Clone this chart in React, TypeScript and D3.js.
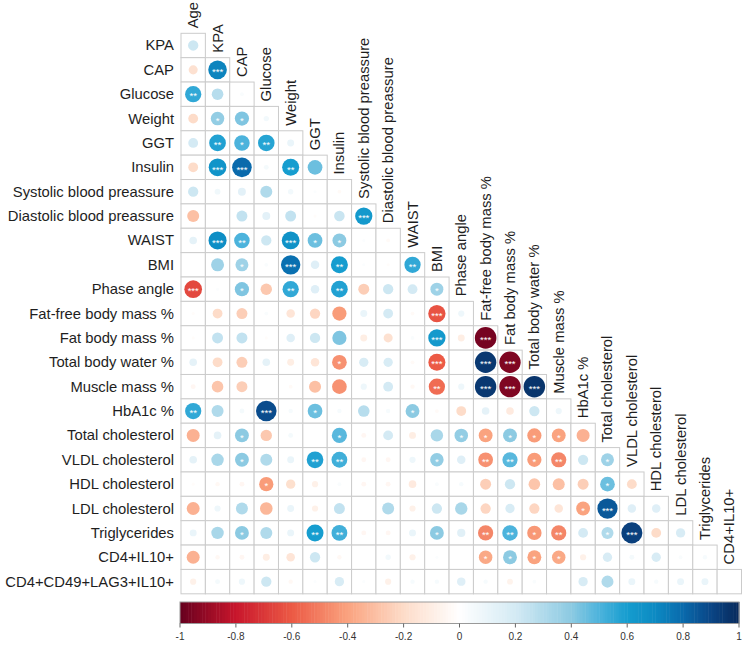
import React from "react";
import * as d3 from "d3";

const variables = [
  "Age", "KPA", "CAP", "Glucose", "Weight", "GGT", "Insulin",
  "Systolic blood preassure", "Diastolic blood preassure", "WAIST", "BMI",
  "Phase angle", "Fat-free body mass %", "Fat body mass %", "Total body water %",
  "Muscle mass %", "HbA1c %", "Total cholesterol", "VLDL cholesterol",
  "HDL cholesterol", "LDL cholesterol", "Triglycerides", "CD4+IL10+",
  "CD4+CD49+LAG3+IL10+",
];

// lower triangle: row i (variables[i], i>=1) holds correlations with variables[0..i-1]
const corrRows: number[][] = [
  [],
  [0.22],
  [-0.17, 0.72],
  [0.55, 0.28, 0.03],
  [-0.2, 0.38, 0.42, 0.06],
  [0.2, 0.58, 0.5, 0.57, 0.1],
  [-0.2, 0.65, 0.8, 0.05, 0.6, 0.45],
  [0.22, 0.07, 0.13, 0.3, 0.06, 0.02, -0.03],
  [-0.3, 0, 0.25, 0.13, 0.25, -0.02, 0.23, 0.62],
  [0.12, 0.68, 0.5, 0.22, 0.66, 0.45, 0.4, 0.02, -0.03],
  [0, 0.35, 0.35, 0.03, 0.78, 0.15, 0.6, 0.02, -0.02, 0.55],
  [-0.65, 0.02, 0.42, -0.27, 0.55, 0.15, 0.58, -0.25, 0.22, 0.2, 0.35],
  [-0.02, -0.2, -0.25, 0.03, -0.15, -0.22, -0.42, 0.1, 0.2, -0.03, -0.62, 0.08],
  [-0.02, 0.25, 0.25, -0.02, 0.15, 0.22, 0.42, -0.1, -0.17, 0.03, 0.62, -0.1, -0.97],
  [0.12, -0.2, -0.25, 0.12, -0.1, -0.15, -0.45, 0.18, 0.18, -0.03, -0.6, 0, 0.95, -0.95],
  [-0.05, -0.28, -0.25, 0, -0.03, -0.3, -0.45, 0.08, 0.2, -0.04, -0.55, 0.08, 0.95, -0.95, 0.96],
  [0.55, 0.3, 0.05, 0.88, 0.04, 0.45, 0.04, 0.28, 0.04, 0.4, -0.03, -0.2, 0.12, -0.12, 0.22, 0.08],
  [-0.35, 0.12, 0.4, -0.27, 0.05, 0, 0.48, -0.05, 0.2, -0.1, 0.32, 0.38, -0.4, 0.4, -0.42, -0.4, -0.35],
  [0.12, 0.32, 0.4, 0.3, 0.1, 0.58, 0.52, -0.05, -0.05, 0.08, 0.38, 0.15, -0.45, 0.48, -0.42, -0.48, 0.22, 0.35],
  [-0.02, -0.04, -0.05, -0.42, -0.18, -0.08, 0.03, -0.05, -0.05, -0.12, 0.03, 0.04, -0.25, 0.22, -0.28, -0.3, -0.25, 0.45, -0.2],
  [-0.35, 0.08, 0.3, -0.33, 0.1, -0.08, 0.25, 0, 0.3, -0.08, 0.22, 0.32, -0.22, 0.18, -0.22, -0.15, -0.4, 0.85, 0.15, 0.15],
  [0.1, 0.32, 0.4, 0.3, 0.1, 0.6, 0.52, -0.05, -0.05, 0.1, 0.4, 0.14, -0.48, 0.5, -0.43, -0.48, 0.2, 0.3, 0.92, -0.2, 0.18],
  [-0.35, -0.04, -0.05, -0.1, -0.15, 0.22, -0.04, 0, 0.06, -0.08, 0.02, 0, -0.38, 0.4, -0.4, -0.38, -0.08, 0.18, 0.05, 0.18, 0.03, 0.04],
  [-0.08, 0.05, 0.08, 0.22, -0.04, 0.02, 0.18, 0.02, -0.08, 0.04, 0.04, 0.15, 0.04, -0.07, 0.03, 0, 0.18, 0.3, 0.1, 0.04, 0.1, 0.1, 0],
];

// [row, col, stars]
const significance: [number, number, string][] = [
  [2, 1, "***"], [3, 0, "**"], [4, 1, "*"], [4, 2, "*"],
  [5, 1, "**"], [5, 2, "*"], [5, 3, "**"],
  [6, 1, "***"], [6, 2, "***"], [6, 4, "**"],
  [8, 7, "***"],
  [9, 1, "***"], [9, 2, "**"], [9, 4, "***"], [9, 5, "*"], [9, 6, "*"],
  [10, 2, "*"], [10, 4, "***"], [10, 6, "**"], [10, 9, "**"],
  [11, 0, "***"], [11, 2, "*"], [11, 4, "**"], [11, 6, "**"], [11, 10, "*"],
  [12, 10, "***"],
  [13, 10, "***"], [13, 12, "***"],
  [14, 6, "*"], [14, 10, "***"], [14, 12, "***"], [14, 13, "***"],
  [15, 10, "**"], [15, 12, "***"], [15, 13, "***"], [15, 14, "***"],
  [16, 0, "**"], [16, 3, "***"], [16, 5, "*"], [16, 9, "*"],
  [17, 2, "*"], [17, 6, "*"], [17, 11, "*"], [17, 12, "*"], [17, 13, "*"], [17, 14, "*"], [17, 15, "*"],
  [18, 2, "*"], [18, 5, "**"], [18, 6, "**"], [18, 10, "*"], [18, 12, "**"], [18, 13, "**"], [18, 14, "*"], [18, 15, "**"], [18, 17, "*"],
  [19, 3, "*"], [19, 17, "*"],
  [20, 16, "*"], [20, 17, "***"],
  [21, 2, "*"], [21, 5, "**"], [21, 6, "**"], [21, 10, "*"], [21, 12, "**"], [21, 13, "**"], [21, 14, "*"], [21, 15, "**"], [21, 17, "*"], [21, 18, "***"],
  [22, 12, "*"], [22, 13, "*"], [22, 14, "*"], [22, 15, "*"],
];

const colorDomain = [-1, -0.8, -0.6, -0.4, -0.2, 0, 0.2, 0.4, 0.5, 0.6, 0.7, 0.8, 0.9, 1];
const colorRange = [
  "#67001F", "#C8162C", "#EC5A45", "#FAA37F", "#FDDCC9", "#FFFFFF",
  "#D4EAF4", "#8CCAE2", "#4CB3DC", "#169DCF", "#0C8AC2", "#0A6AAC", "#0A4585", "#082A5C",
];
const legendTicks = [-1, -0.8, -0.6, -0.4, -0.2, 0, 0.2, 0.4, 0.6, 0.8, 1];

const W = 749;
const H = 646;
const gridLeft = 181;
const gridTop = 33.3;
const cell = 24.37;
const nCols = variables.length - 1;
const FONT = "'Liberation Sans', Arial, sans-serif";

export default function App() {
  const x = d3.scaleLinear().domain([0, nCols]).range([gridLeft, gridLeft + nCols * cell]);
  const y = d3.scaleLinear().domain([1, variables.length]).range([gridTop, gridTop + nCols * cell]);
  const color = d3.scaleLinear<string>().domain(colorDomain).range(colorRange).interpolate(d3.interpolateRgb);
  const radius = d3.scaleSqrt().domain([0, 1]).range([0, cell * 0.45]);
  const legendX = d3.scaleLinear().domain([-1, 1]).range([180, 739]);
  const legendTop = 602;
  const legendBottom = 623.5;

  const sigMap = new Map<string, string>();
  significance.forEach(([r, c, s]) => sigMap.set(`${r}-${c}`, s));

  const cells: React.ReactNode[] = [];
  const circles: React.ReactNode[] = [];
  corrRows.forEach((row, r) => {
    row.forEach((v, c) => {
      const x0 = x(c);
      const y0 = y(r);
      cells.push(
        <rect key={`g${r}-${c}`} x={x0} y={y0} width={cell} height={cell}
          fill="white" stroke="#cbcbcb" strokeWidth={1} />
      );
      const cx = x0 + cell / 2;
      const cy = y0 + cell / 2;
      if (Math.abs(v) > 0.001) {
        circles.push(
          <circle key={`c${r}-${c}`} cx={cx} cy={cy} r={radius(Math.abs(v))} fill={color(v)} />
        );
      }
      const s = sigMap.get(`${r}-${c}`);
      if (s) {
        circles.push(
          <text key={`s${r}-${c}`} x={cx} y={cy + 5.2} textAnchor="middle" fontSize={9.5}
            fontFamily={FONT} fill="white">{s}</text>
        );
      }
    });
  });

  const rowLabels = variables.slice(1).map((name, i) => (
    <text key={`rl${i}`} x={174} y={y(i + 1) + cell / 2} textAnchor="end"
      dominantBaseline="central" fontSize={14.8} fontFamily={FONT} fill="#1e1e1e">{name}</text>
  ));

  const colLabels = variables.slice(0, nCols).map((name, j) => {
    const cx = x(j) + cell / 2;
    const yy = gridTop + j * cell - 5;
    return (
      <text key={`cl${j}`} transform={`translate(${cx},${yy}) rotate(-90)`}
        dominantBaseline="central" fontSize={14.8} fontFamily={FONT} fill="#1e1e1e">{name}</text>
    );
  });

  const nSteps = 200;
  const legendRects = d3.range(nSteps).map((i) => {
    const v0 = -1 + (2 * i) / nSteps;
    const v1 = -1 + (2 * (i + 1)) / nSteps;
    return (
      <rect key={`lg${i}`} x={legendX(v0)} y={legendTop} width={legendX(v1) - legendX(v0) + 0.5}
        height={legendBottom - legendTop} fill={color((v0 + v1) / 2)} />
    );
  });

  return (
    <svg width={W} height={H} style={{ position: "absolute", left: 0, top: 0, background: "white" }}>
      <rect x={0} y={0} width={W} height={H} fill="white" />
      {cells}
      {circles}
      {rowLabels}
      {colLabels}
      {legendRects}
      <rect x={180} y={legendTop} width={559} height={legendBottom - legendTop} fill="none" stroke="#999" strokeWidth={1} />
      {legendTicks.map((t) => (
        <g key={`t${t}`}>
          <line x1={legendX(t)} x2={legendX(t)} y1={legendBottom} y2={legendBottom + 4} stroke="#666" />
          <text x={legendX(t)} y={640} textAnchor="middle" fontSize={10} fontFamily={FONT} fill="#333">
            {String(t)}
          </text>
        </g>
      ))}
    </svg>
  );
}
